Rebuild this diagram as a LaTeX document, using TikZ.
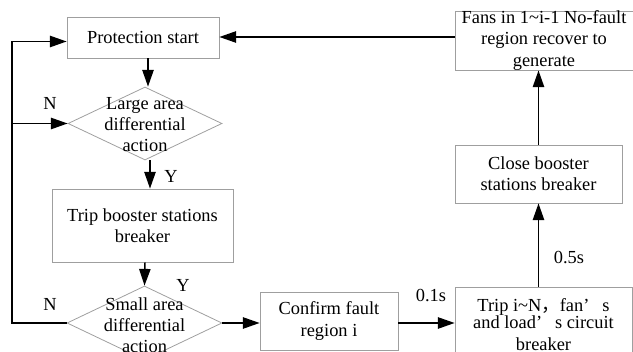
\documentclass[tikz,border=0pt]{standalone}
\usepackage{fontspec}
\setmainfont{Liberation Serif}
\newfontfamily\cjk{Noto Sans CJK SC}
\usetikzlibrary{arrows.meta,positioning,calc,shapes.geometric}

\begin{document}
\begin{tikzpicture}[x=0.75pt,y=-0.75pt,>={Triangle[length=12.5pt,width=8.5pt]},
  every node/.style={font=\fontsize{13.8}{15.8}\selectfont},
  box/.style={draw=gray!75,line width=0.6pt,align=center,inner sep=0pt},
  decision/.style={draw=gray!75,line width=0.6pt,diamond,inner sep=0pt},
  flow/.style={->,line width=1.1pt}]
  \useasboundingbox (0,0) rectangle (633,352);
  % boxes
  \node[box,minimum width=114pt,minimum height=30.75pt] (prot) at (143,37.5) {Protection start};
  \node[decision,minimum width=115.5pt,minimum height=54.75pt] (large) at (145,123.5) {};
  \node[align=center] (largetext) at (145,125) {Large area\\differential\\action};
  \node[box,minimum width=135.75pt,minimum height=54.75pt] (tripbs) at (142.5,225.5) {Trip booster stations\\breaker};
  \node[decision,minimum width=116.25pt,minimum height=55.5pt] (small) at (144.5,323) {};
  \node[align=center] (smalltext) at (144.5,325) {Small area\\differential\\action};
  \node[box,minimum width=103.5pt,minimum height=43.5pt] (confirm) at (329,321) {Confirm fault\\region i};
  \node[box,minimum width=132.75pt,minimum height=56.25pt] (trip) at (543.5,324.5)
    {Trip i\textasciitilde N{\cjk ，}fan’\hspace{0.7em}s\\[-3pt]and load’\hspace{0.7em}s circuit\\[1pt]breaker};
  \node[box,minimum width=125.25pt,minimum height=43.5pt] (close) at (538.5,174) {Close booster\\stations breaker};
  \node[box,minimum width=133.5pt,minimum height=42.75pt] (fans) at (544,40.5) {Fans in 1\textasciitilde i-1 No-fault\\region recover to\\generate};
  \coordinate (loop) at (12,0);
  % connectors
  \draw[flow] (prot.south -| 148,0) -- (148,0 |- large.north);
  \draw[flow] (large.south -| 150,0) -- (150,0 |- tripbs.north);
  \draw[flow] (tripbs.south -| large.north) -- (small.north);
  \draw[flow] (small.west) -- (small.west -| loop) |- ($(prot.west)+(0,4)$);
  \draw[flow] (large.west -| loop) -- (large.west);
  \draw[flow] (small.east) -- (small.east -| confirm.west);
  \draw[flow] (confirm.east |- 0,323) -- (trip.west |- 0,323);
  \draw[flow] (trip.north -| close.south) -- (close.south);
  \draw[flow] (close.north) -- (close.north |- fans.south);
  \draw[flow] (fans.west |- 0,37) -- (prot.east |- 0,37);
  % labels
  \node (ylarge) at (171,176) {Y};
  \node (ysmall) at (183,285) {Y};
  \node (nlarge) at (50,103) {N};
  \node (nsmall) at (50,304) {N};
  \node (tconfirm) at (431,296) {0.1s};
  \node (tclose) at (569,258) {0.5s};
\end{tikzpicture}
\end{document}
